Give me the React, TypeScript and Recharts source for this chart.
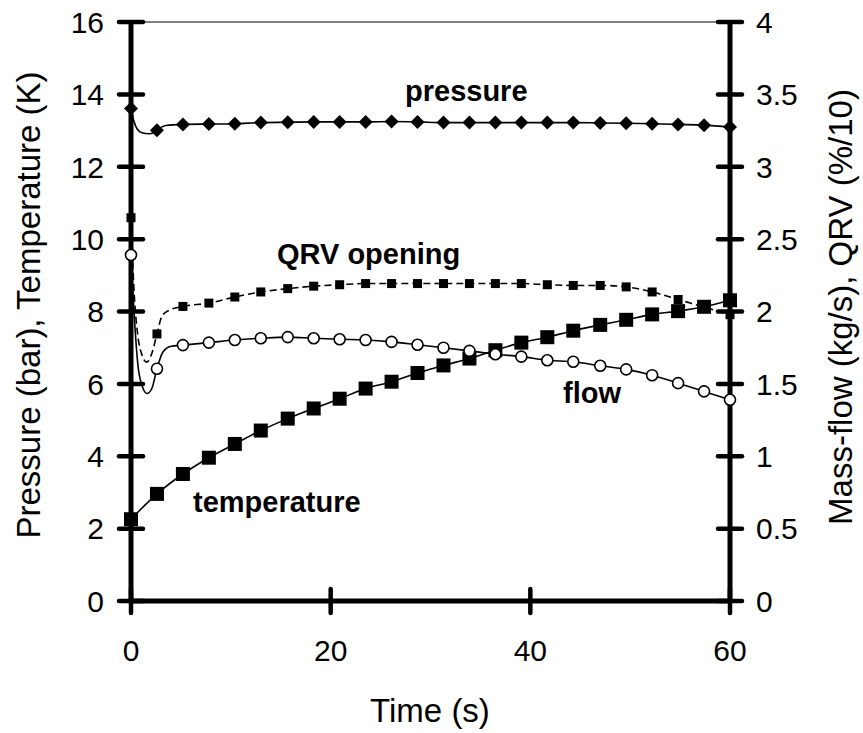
import React from 'react';
import { ComposedChart, Line, XAxis, YAxis, ReferenceLine } from 'recharts';

// Time (s) of the plotted markers
const markerTimes = [0, 2.6, 5.2, 7.8, 10.4, 13.0, 15.7, 18.3, 20.9, 23.5, 26.1, 28.7, 31.3, 33.9, 36.5, 39.1, 41.7, 44.3, 47.0, 49.6, 52.2, 54.8, 57.4, 60];

// Left axis series
const pressureBar = [13.61, 13.01, 13.17, 13.18, 13.19, 13.22, 13.23, 13.24, 13.24, 13.24, 13.25, 13.24, 13.22, 13.22, 13.22, 13.22, 13.22, 13.22, 13.21, 13.2, 13.19, 13.17, 13.15, 13.1];
const temperatureK = [2.26, 2.96, 3.51, 3.96, 4.34, 4.71, 5.04, 5.32, 5.59, 5.87, 6.06, 6.3, 6.51, 6.7, 6.93, 7.14, 7.29, 7.47, 7.63, 7.77, 7.92, 8.01, 8.13, 8.31];

// Right axis series
const massFlowKgS = [2.39, 1.605, 1.768, 1.785, 1.803, 1.815, 1.823, 1.815, 1.808, 1.803, 1.79, 1.77, 1.75, 1.728, 1.705, 1.688, 1.663, 1.653, 1.625, 1.6, 1.56, 1.505, 1.448, 1.39];
const qrvOpening = [2.648, 1.845, 2.035, 2.058, 2.1, 2.135, 2.158, 2.175, 2.185, 2.193, 2.193, 2.193, 2.193, 2.193, 2.193, 2.193, 2.185, 2.18, 2.18, 2.17, 2.135, 2.083, 2.03, 1.978];

// Unmarked curve points of the initial transient
const pressureExtraT = [0.25, 0.6, 1.1, 1.8, 2.3, 3.5];
const pressureExtraV = [13.3, 13.05, 12.94, 12.91, 12.94, 13.14];
const flowExtraT = [0.3, 0.7, 1.1, 1.6, 2.1, 3.2, 4.0];
const flowExtraV = [2.0, 1.625, 1.488, 1.433, 1.47, 1.72, 1.76];
const qrvExtraT = [0.3, 0.7, 1.1, 1.55, 2.1, 3.1, 3.8];
const qrvExtraV = [2.15, 1.825, 1.7, 1.65, 1.713, 1.968, 2.008];
const tempExtraT: number[] = [];
const tempExtraV: number[] = [];

// Ticks
const xTicks = [0, 20, 40, 60];
const leftTicks = [0, 2, 4, 6, 8, 10, 12, 14, 16];
const rightTicks = [0, 0.5, 1, 1.5, 2, 2.5, 3, 3.5, 4];

const FONT = "'Liberation Sans', Arial, Helvetica, sans-serif";

type Pt = { t: number; v: number; m: boolean };
function buildCurve(vals: number[], extraT: number[], extraV: number[]): Pt[] {
  const pts: Pt[] = markerTimes.map((t, i) => ({ t, v: vals[i], m: true }));
  extraT.forEach((t, i) => pts.push({ t, v: extraV[i], m: false }));
  return pts.sort((a, b) => a.t - b.t);
}

const pressureData = buildCurve(pressureBar, pressureExtraT, pressureExtraV);
const temperatureData = buildCurve(temperatureK, tempExtraT, tempExtraV);
const flowData = buildCurve(massFlowKgS, flowExtraT, flowExtraV);
const qrvData = buildCurve(qrvOpening, qrvExtraT, qrvExtraV);

const TICK_FS = 30;
const TITLE_FS = 33;

const LeftTick = (props: any) => {
  const { x, y, payload } = props;
  return (
    <g>
      <line x1={x - 12} x2={x + 12} y1={y} y2={y} stroke="#000" strokeWidth={4.5} strokeLinecap="round" />
      <text x={x - 27} y={y} dy="0.36em" textAnchor="end" fontSize={TICK_FS} fontFamily={FONT} fill="#000">
        {payload.value}
      </text>
    </g>
  );
};

const RightTick = (props: any) => {
  const { x, y, payload } = props;
  return (
    <g>
      <line x1={x - 12} x2={x + 12} y1={y} y2={y} stroke="#000" strokeWidth={4.5} strokeLinecap="round" />
      <text x={x + 26} y={y} dy="0.36em" textAnchor="start" fontSize={TICK_FS} fontFamily={FONT} fill="#000">
        {payload.value}
      </text>
    </g>
  );
};

const BottomTick = (props: any) => {
  const { x, y, payload } = props;
  return (
    <g>
      <line x1={x} x2={x} y1={y - 12} y2={y + 12} stroke="#000" strokeWidth={4.5} strokeLinecap="round" />
      <text x={x} y={y + 60} textAnchor="middle" fontSize={TICK_FS} fontFamily={FONT} fill="#000">
        {payload.value}
      </text>
    </g>
  );
};

const mk = (p: any) => `d${p.index}-${p.cx}`;
const emptyDot = (p: any) => <g key={mk(p)} />;

const diamondDot = (p: any) =>
  p.payload && p.payload.m ? (
    <polygon
      key={mk(p)}
      points={`${p.cx},${p.cy - 7} ${p.cx + 7},${p.cy} ${p.cx},${p.cy + 7} ${p.cx - 7},${p.cy}`}
      fill="#000"
    />
  ) : (
    emptyDot(p)
  );

const smallSquareDot = (p: any) =>
  p.payload && p.payload.m ? (
    <rect key={mk(p)} x={p.cx - 4.5} y={p.cy - 4.5} width={9} height={9} fill="#000" />
  ) : (
    emptyDot(p)
  );

const bigSquareDot = (p: any) =>
  p.payload && p.payload.m ? (
    <rect key={mk(p)} x={p.cx - 7} y={p.cy - 7} width={14} height={14} fill="#000" />
  ) : (
    emptyDot(p)
  );

const circleDot = (p: any) =>
  p.payload && p.payload.m ? (
    <circle key={mk(p)} cx={p.cx} cy={p.cy} r={5.5} fill="#fff" stroke="#000" strokeWidth={1.6} />
  ) : (
    emptyDot(p)
  );

const labelStyle = { fontFamily: FONT, fontWeight: 'bold' as const, fontSize: 29, fill: '#000' };

export default function App() {
  return (
    <div style={{ position: 'absolute', left: 0, top: 0, width: 863, height: 733, background: '#fff' }}>
      <ComposedChart width={863} height={733} margin={{ top: 22, right: 0, bottom: 0, left: 0 }}>
        <XAxis
          type="number"
          dataKey="t"
          domain={[0, 60]}
          ticks={xTicks}
          interval={0}
          height={132}
          tickSize={0}
          tickMargin={0}
          tickLine={false}
          axisLine={{ stroke: '#000', strokeWidth: 5 }}
          tick={<BottomTick />}
          allowDuplicatedCategory={false}
        />
        <YAxis
          yAxisId="left"
          domain={[0, 16]}
          ticks={leftTicks}
          interval={0}
          width={131}
          tickSize={0}
          tickMargin={0}
          tickLine={false}
          axisLine={{ stroke: '#000', strokeWidth: 5 }}
          tick={<LeftTick />}
        />
        <YAxis
          yAxisId="right"
          orientation="right"
          domain={[0, 4]}
          ticks={rightTicks}
          interval={0}
          width={133}
          tickSize={0}
          tickMargin={0}
          tickLine={false}
          axisLine={{ stroke: '#000', strokeWidth: 5 }}
          tick={<RightTick />}
        />
        <ReferenceLine yAxisId="left" y={16} stroke="#000" strokeWidth={1} />

        <Line
          yAxisId="left"
          data={temperatureData}
          dataKey="v"
          type="monotone"
          stroke="#000"
          strokeWidth={1.6}
          dot={bigSquareDot}
          activeDot={false}
          isAnimationActive={false}
        />
        <Line
          yAxisId="right"
          data={qrvData}
          dataKey="v"
          type="monotone"
          stroke="#000"
          strokeWidth={1.6}
          strokeDasharray="7 4"
          dot={smallSquareDot}
          activeDot={false}
          isAnimationActive={false}
        />
        <Line
          yAxisId="left"
          data={pressureData}
          dataKey="v"
          type="monotone"
          stroke="#000"
          strokeWidth={1.6}
          dot={diamondDot}
          activeDot={false}
          isAnimationActive={false}
        />
        <Line
          yAxisId="right"
          data={flowData}
          dataKey="v"
          type="monotone"
          stroke="#000"
          strokeWidth={1.6}
          dot={circleDot}
          activeDot={false}
          isAnimationActive={false}
        />

        <text x={405} y={101} {...labelStyle}>pressure</text>
        <text x={277} y={264} {...labelStyle}>QRV opening</text>
        <text x={563} y={403} {...labelStyle}>flow</text>
        <text x={193} y={512} {...labelStyle}>temperature</text>

        <text x={430} y={722} textAnchor="middle" fontFamily={FONT} fontSize={TITLE_FS} fill="#000">Time (s)</text>
        <text
          transform="translate(28,305) rotate(-90)"
          textAnchor="middle"
          dy="0.36em"
          fontFamily={FONT}
          fontSize={TITLE_FS}
          fill="#000"
        >
          Pressure (bar), Temperature (K)
        </text>
        <text
          transform="translate(840,307) rotate(-90)"
          textAnchor="middle"
          dy="0.36em"
          fontFamily={FONT}
          fontSize={TITLE_FS}
          fill="#000"
        >
          Mass-flow (kg/s), QRV (%/10)
        </text>
      </ComposedChart>
    </div>
  );
}
